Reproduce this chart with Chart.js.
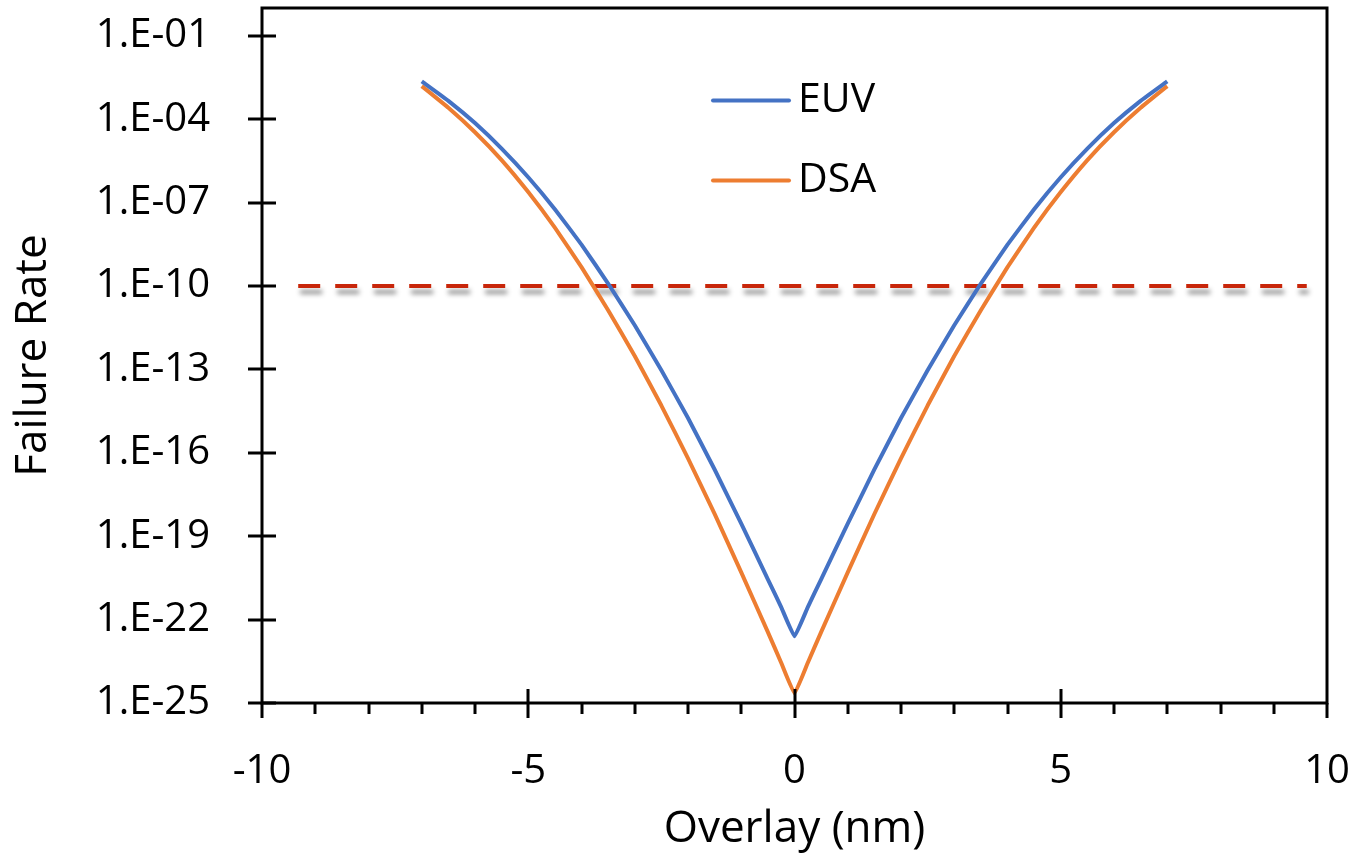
<!DOCTYPE html>
<html>
<head>
<meta charset="utf-8">
<script src="https://cdn.jsdelivr.net/npm/chart.js@4"></script>
<style>
  html, body { margin: 0; padding: 0; background: #ffffff; }
  #wrap { width: 1355px; height: 866px; }
</style>
</head>
<body>
<div id="wrap"><canvas id="c" width="1355" height="866"></canvas></div>
<script>
// ---- Data ----
const overlay = [-7, -6.5, -6, -5.5, -5, -4.5, -4, -3.5, -3, -2.5, -2, -1.5, -1, -0.5, -0.25, 0,
                 0.25, 0.5, 1, 1.5, 2, 2.5, 3, 3.5, 4, 4.5, 5, 5.5, 6, 6.5, 7];
const euv = [2.29e-3, 4.57e-4, 7.24e-5, 8.71e-6, 8.13e-7, 5.75e-8, 3.09e-9, 1.23e-10, 3.89e-12,
             9.33e-14, 1.78e-15, 2.51e-17, 2.82e-19, 2.82e-21, 2.82e-22, 2.51e-23,
             2.82e-22, 2.82e-21, 2.82e-19, 2.51e-17, 1.78e-15, 9.33e-14, 3.89e-12, 1.23e-10, 3.09e-9,
             5.75e-8, 8.13e-7, 8.71e-6, 7.24e-5, 4.57e-4, 2.29e-3];
const dsa = [1.55e-3, 2.57e-4, 3.39e-5, 3.39e-6, 2.40e-7, 1.26e-8, 4.79e-10, 1.35e-11, 3.02e-13,
             5.01e-15, 6.31e-17, 6.31e-19, 5.01e-21, 3.55e-23, 2.82e-24, 2.24e-25,
             2.82e-24, 3.55e-23, 5.01e-21, 6.31e-19, 6.31e-17, 5.01e-15, 3.02e-13, 1.35e-11, 4.79e-10,
             1.26e-8, 2.40e-7, 3.39e-6, 3.39e-5, 2.57e-4, 1.55e-3];
const thresholdX = [-9.32, 9.62];
const thresholdY = 1e-10;
const yTickValues = [1e-25, 1e-22, 1e-19, 1e-16, 1e-13, 1e-10, 1e-7, 1e-4, 1e-1];
const yTickLabels = ['1.E-25', '1.E-22', '1.E-19', '1.E-16', '1.E-13', '1.E-10', '1.E-07', '1.E-04', '1.E-01'];
const xMajorTicks = [-10, -5, 0, 5, 10];
const xMinorTicks = [-9, -8, -7, -6, -4, -3, -2, -1, 1, 2, 3, 4, 6, 7, 8, 9];
const seriesNames = ['EUV', 'DSA'];
const seriesColors = ['#4472C4', '#ED7D31'];

const FONT = "'Open Sans', 'Liberation Sans', sans-serif";

function zeroPadding(scale) {
  scale.paddingTop = 0; scale.paddingBottom = 0;
  scale.paddingLeft = 0; scale.paddingRight = 0;
}

const shadowPlugin = {
  id: 'shadowLine',
  beforeDatasetDraw(chart, args) {
    if (args.index === 2) {
      const ctx = chart.ctx;
      ctx.save();
      ctx.shadowColor = 'rgba(0,0,0,0.45)';
      ctx.shadowBlur = 5;
      ctx.shadowOffsetX = 2;
      ctx.shadowOffsetY = 6;
    }
  },
  afterDatasetDraw(chart, args) {
    if (args.index === 2) chart.ctx.restore();
  }
};

const framePlugin = {
  id: 'frame',
  afterDatasetsDraw(chart) {
    const ctx = chart.ctx;
    const a = chart.chartArea;
    const xs = chart.scales.x, ys = chart.scales.y;
    ctx.save();
    ctx.strokeStyle = '#000';
    ctx.lineWidth = 3;
    ctx.lineCap = 'butt';
    ctx.strokeRect(a.left, a.top, a.right - a.left, a.bottom - a.top);
    ctx.beginPath();
    yTickValues.forEach(v => {
      const y = Math.round(ys.getPixelForValue(v));
      ctx.moveTo(a.left - 14, y); ctx.lineTo(a.left + 14, y);
    });
    xMajorTicks.forEach(v => {
      const x = Math.round(xs.getPixelForValue(v));
      const inner = (v === xs.min || v === xs.max) ? 0 : 14;
      ctx.moveTo(x, a.bottom - inner); ctx.lineTo(x, a.bottom + 15);
    });
    xMinorTicks.forEach(v => {
      const x = Math.round(xs.getPixelForValue(v));
      ctx.moveTo(x, a.bottom); ctx.lineTo(x, a.bottom + 11);
    });
    ctx.stroke();
    ctx.restore();
  }
};

const legendPlugin = {
  id: 'inlineLegend',
  afterDraw(chart) {
    const ctx = chart.ctx;
    const rows = [100.5, 180.5];
    ctx.save();
    ctx.font = '41px ' + FONT;
    ctx.textBaseline = 'middle';
    ctx.textAlign = 'left';
    rows.forEach((y, i) => {
      ctx.strokeStyle = seriesColors[i];
      ctx.lineWidth = 4;
      ctx.lineCap = 'round';
      ctx.beginPath();
      ctx.moveTo(713, y); ctx.lineTo(789, y);
      ctx.stroke();
      ctx.fillStyle = '#000';
      ctx.fillText(seriesNames[i], 798, y);
    });
    ctx.restore();
  }
};

new Chart(document.getElementById('c'), {
  type: 'line',
  data: {
    datasets: [
      {
        label: seriesNames[0],
        data: overlay.map((x, i) => ({ x: x, y: euv[i] })),
        borderColor: seriesColors[0],
        borderWidth: 4,
        borderJoinStyle: 'round',
        pointRadius: 0,
        tension: 0.1,
        fill: false
      },
      {
        label: seriesNames[1],
        data: overlay.map((x, i) => ({ x: x, y: dsa[i] })),
        borderColor: seriesColors[1],
        borderWidth: 4,
        borderJoinStyle: 'round',
        pointRadius: 0,
        tension: 0.1,
        fill: false
      },
      {
        label: 'threshold',
        data: thresholdX.map(x => ({ x: x, y: thresholdY })),
        borderColor: '#C8260A',
        borderWidth: 4,
        borderDash: [22, 15],
        borderCapStyle: 'butt',
        pointRadius: 0,
        fill: false
      }
    ]
  },
  options: {
    responsive: false,
    animation: false,
    layout: { autoPadding: false, padding: { top: 8, right: 28, left: 0, bottom: 0 } },
    plugins: { legend: { display: false }, tooltip: { enabled: false } },
    scales: {
      x: {
        type: 'linear',
        min: -10, max: 10,
        grid: { display: false },
        border: { display: false },
        ticks: {
          stepSize: 5,
          padding: 37,
          color: '#000',
          font: { family: FONT, size: 40 },
          maxRotation: 0,
          autoSkip: false
        },
        afterBuildTicks(scale) { scale.ticks = xMajorTicks.map(v => ({ value: v })); },
        afterFit(scale) { scale.height = 163; zeroPadding(scale); },
        title: {
          display: true,
          text: 'Overlay (nm)',
          color: '#000',
          font: { family: FONT, size: 44 },
          padding: { top: 0, bottom: 10 }
        }
      },
      y: {
        type: 'logarithmic',
        min: 1e-25, max: 1,
        grid: { display: false },
        border: { display: false },
        ticks: {
          padding: 44,
          color: '#000',
          font: { family: FONT, size: 40 },
          autoSkip: false,
          callback: (v) => {
            const idx = yTickValues.findIndex(t => Math.abs(Math.log10(t) - Math.log10(v)) < 1e-6);
            return idx >= 0 ? yTickLabels[idx] : '';
          }
        },
        afterBuildTicks(scale) { scale.ticks = yTickValues.map(v => ({ value: v })); },
        afterFit(scale) { scale.width = 262; zeroPadding(scale); },
        title: {
          display: true,
          text: 'Failure Rate',
          color: '#000',
          font: { family: FONT, size: 44 },
          padding: { top: 7, bottom: 0 }
        }
      }
    }
  },
  plugins: [shadowPlugin, framePlugin, legendPlugin]
});
</script>
</body>
</html>
